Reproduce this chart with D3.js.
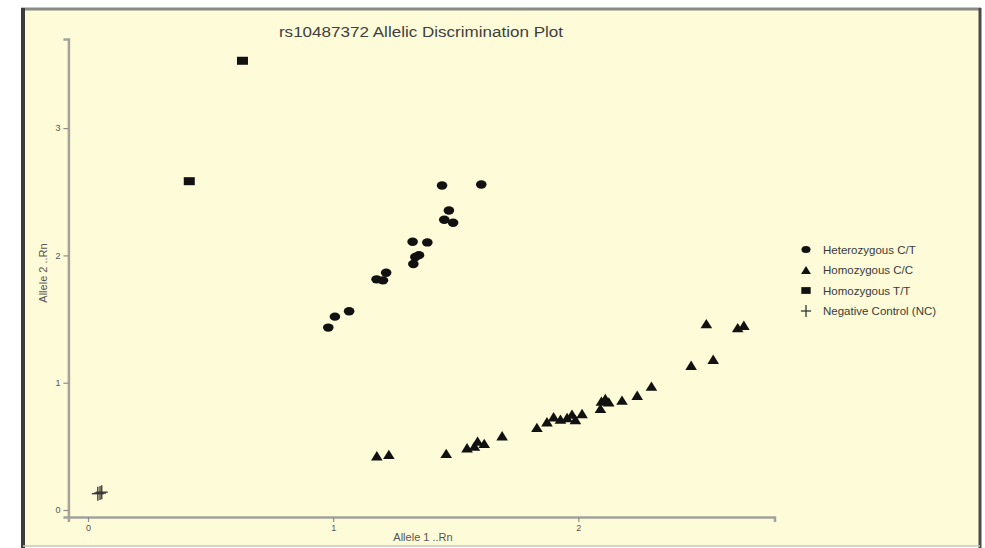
<!DOCTYPE html>
<html>
<head>
<meta charset="utf-8">
<script src="https://cdn.jsdelivr.net/npm/d3@7"></script>
<style>
  body { margin: 0; background: #fff; }
  svg { display: block; font-family: "Liberation Sans", Arial, sans-serif; }
</style>
</head>
<body>
<svg id="chart"></svg>
<script>
// allele 1 / allele 2 values
var hetX = [1.444, 1.604, 1.472, 1.453, 1.489, 1.324, 1.384, 1.350, 1.335, 1.327, 1.216, 1.177, 1.203, 1.065, 1.007, 0.980];
var hetY = [2.549, 2.557, 2.353, 2.280, 2.256, 2.107, 2.102, 2.002, 1.987, 1.932, 1.864, 1.812, 1.804, 1.561, 1.519, 1.433];

var ccX = [1.178, 1.227, 1.461, 1.546, 1.589, 1.616, 1.576, 1.689, 1.831, 1.872, 1.899, 1.927, 1.954, 1.974, 1.988, 2.015,
           2.090, 2.110, 2.094, 2.124, 2.178, 2.240, 2.298, 2.460, 2.550, 2.522, 2.650, 2.675];
var ccY = [0.426, 0.437, 0.445, 0.489, 0.541, 0.523, 0.502, 0.583, 0.649, 0.693, 0.732, 0.714, 0.727, 0.753, 0.711, 0.758,
           0.798, 0.876, 0.855, 0.849, 0.863, 0.902, 0.973, 1.137, 1.184, 1.464, 1.433, 1.451];

var ttX = [0.630, 0.413];
var ttY = [3.529, 2.583];

var ncX = [0.049, 0.040, 0.056];
var ncY = [0.133, 0.128, 0.140];

var xTicks = [0, 1, 2];
var yTicks = [0, 1, 2, 3];

var legendLabels = ["Heterozygous C/T", "Homozygous C/C", "Homozygous T/T", "Negative Control (NC)"];
var legendShapes = ["circle", "triangle", "square", "plus"];

var width = 985,
    height = 548;

var svg = d3.select("#chart").attr("width", width).attr("height", height);

// panel
svg.append("rect").attr("x", 23).attr("y", 9).attr("width", 956).attr("height", 537).attr("fill", "#fdfbd8");
svg.append("line").attr("x1", 21).attr("x2", 981).attr("y1", 9).attr("y2", 9).attr("stroke", "#8a8a86").attr("stroke-width", 3);
svg.append("line").attr("x1", 23).attr("x2", 23).attr("y1", 8).attr("y2", 548).attr("stroke", "#3c3c3c").attr("stroke-width", 4);
svg.append("line").attr("x1", 980).attr("x2", 980).attr("y1", 8).attr("y2", 548).attr("stroke", "#4a4a4a").attr("stroke-width", 3);
svg.append("line").attr("x1", 23).attr("x2", 980).attr("y1", 546).attr("y2", 546).attr("stroke", "#c8c8c0").attr("stroke-width", 1.5);

var x = d3.scaleLinear().domain([-0.08, 2.8]).range([68.4, 774.5]);
var y = d3.scaleLinear().domain([-0.055, 3.70]).range([517, 39]);

// axes
var gx = svg.append("g").attr("transform", "translate(0,517)")
  .call(d3.axisBottom(x).tickValues(xTicks).tickSizeOuter(0).tickSize(5).tickPadding(3).tickFormat(d3.format("d")));
var gy = svg.append("g").attr("transform", "translate(68.4,0)")
  .call(d3.axisLeft(y).tickValues(yTicks).tickSizeOuter(0).tickSize(5).tickPadding(3).tickFormat(d3.format("d")));

[gx, gy].forEach(function(g) {
  g.select(".domain").attr("stroke", "#a3a39b").attr("stroke-width", 2.5);
  g.selectAll(".tick line").attr("stroke", "#8e8e88").attr("stroke-width", 1.2);
  g.selectAll(".tick text").attr("fill", "#555").style("font-size", "9px");
});

// title and axis titles
svg.append("text").text("rs10487372 Allelic Discrimination Plot")
  .attr("transform", "translate(421,37) scale(1.1,1)").attr("text-anchor", "middle")
  .attr("fill", "#404040").style("font-size", "15.5px");
svg.append("text").text("Allele 1 ..Rn")
  .attr("x", 423).attr("y", 541).attr("text-anchor", "middle")
  .attr("fill", "#555").style("font-size", "11px");
svg.append("text").text("Allele 2 ..Rn")
  .attr("transform", "translate(47,273) rotate(-90)").attr("text-anchor", "middle")
  .attr("fill", "#555").style("font-size", "11px");

// marker drawing
function drawMarker(g, shape, cx, cy, s) {
  if (shape == "circle") {
    g.append("ellipse").attr("cx", cx).attr("cy", cy).attr("rx", 5.3 * s).attr("ry", 4.2 * s).attr("fill", "#111");
  }
  else if (shape == "triangle") {
    var w = 5.8 * s, h = 4.7 * s;
    g.append("path").attr("d", "M" + cx + "," + (cy - h) + "L" + (cx + w) + "," + (cy + h) + "L" + (cx - w) + "," + (cy + h) + "Z")
      .attr("fill", "#111");
  }
  else if (shape == "square") {
    g.append("rect").attr("x", cx - 5.5 * s).attr("y", cy - 4 * s).attr("width", 11 * s).attr("height", 8 * s).attr("fill", "#111");
  }
  else if (shape == "plus") {
    g.append("line").attr("x1", cx - 6 * s).attr("x2", cx + 6 * s).attr("y1", cy).attr("y2", cy).attr("stroke", "#333").attr("stroke-width", 1.3);
    g.append("line").attr("x1", cx).attr("x2", cx).attr("y1", cy - 7 * s).attr("y2", cy + 7 * s).attr("stroke", "#333").attr("stroke-width", 1.3);
  }
}

var marks = svg.append("g");
ncX.forEach(function(v, i) { drawMarker(marks, "plus", x(v), y(ncY[i]), 1); });
ccX.forEach(function(v, i) { drawMarker(marks, "triangle", x(v), y(ccY[i]), 1); });
hetX.forEach(function(v, i) { drawMarker(marks, "circle", x(v), y(hetY[i]), 1); });
ttX.forEach(function(v, i) { drawMarker(marks, "square", x(v), y(ttY[i]), 1); });

// legend
var legend = svg.append("g");
legendLabels.forEach(function(label, i) {
  var ly = 249.5 + i * 20.5;
  drawMarker(legend, legendShapes[i], 806, ly, 0.85);
  legend.append("text").text(label).attr("x", 823).attr("y", ly + 4)
    .attr("fill", "#3a3a3a").style("font-size", "11.5px");
});
</script>
</body>
</html>
